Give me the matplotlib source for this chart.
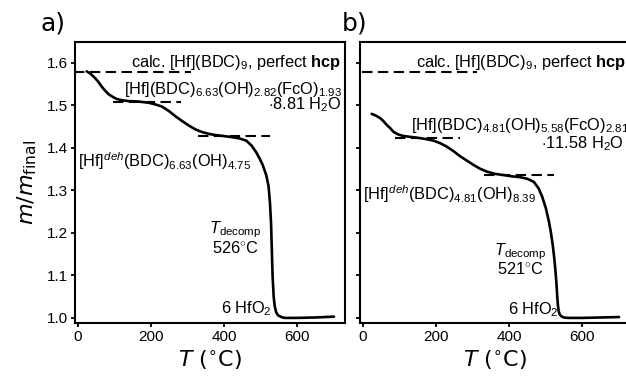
import matplotlib
matplotlib.use("Agg")
import matplotlib.pyplot as plt

plt.rcParams['font.family'] = ['Liberation Sans', 'DejaVu Sans']
plt.rcParams['mathtext.fontset'] = 'custom'
plt.rcParams['mathtext.rm'] = 'Liberation Sans'
plt.rcParams['mathtext.it'] = 'Liberation Sans:italic'
plt.rcParams['mathtext.bf'] = 'Liberation Sans:bold'

# ---- data ----
T_a = [24, 35, 47, 56, 65, 75, 84, 95, 106, 120, 139, 165, 194, 212, 230, 248, 267,
       285, 304, 322, 340, 362, 386, 405, 423, 442, 460, 475, 487, 496, 505, 515,
       521, 525, 528, 530, 532, 535, 538, 542, 547, 556, 565, 600, 650, 700]
m_a = [1.580, 1.574, 1.564, 1.555, 1.544, 1.534, 1.526, 1.520, 1.515, 1.512, 1.510,
       1.509, 1.506, 1.502, 1.497, 1.487, 1.474, 1.463, 1.452, 1.443, 1.437, 1.432,
       1.429, 1.427, 1.425, 1.422, 1.417, 1.405, 1.390, 1.376, 1.360, 1.335, 1.310,
       1.270, 1.220, 1.160, 1.100, 1.050, 1.027, 1.013, 1.006, 1.002, 1.000, 1.000,
       1.001, 1.003]

T_b = [24, 35, 47, 56, 65, 75, 83, 95, 110, 128, 147, 170, 193, 211, 229, 248, 266,
       284, 302, 320, 339, 360, 384, 407, 430, 450, 467, 480, 490, 500, 508, 514,
       519, 523, 526, 529, 531, 533, 535, 538, 542, 549, 560, 600, 650, 700]
m_b = [1.480, 1.476, 1.470, 1.463, 1.454, 1.446, 1.438, 1.432, 1.428, 1.426, 1.424,
       1.421, 1.417, 1.411, 1.403, 1.392, 1.380, 1.370, 1.360, 1.351, 1.344, 1.339,
       1.336, 1.333, 1.331, 1.327, 1.320, 1.305, 1.285, 1.258, 1.228, 1.200, 1.170,
       1.140, 1.113, 1.080, 1.052, 1.030, 1.016, 1.008, 1.004, 1.001, 1.000, 1.000,
       1.001, 1.002]

# dashed reference levels: (y, x_start, x_end)
levels_a = [(1.579, -10, 310), (1.507, 97, 281), (1.429, 327, 524)]
levels_b = [(1.579, -3, 312), (1.424, 88, 266), (1.335, 330, 521)]

xticks = [0, 200, 400, 600]
yticks = [1.0, 1.1, 1.2, 1.3, 1.4, 1.5, 1.6]

fig = plt.figure(figsize=(6.26, 3.77), dpi=100)
ax_a = fig.add_axes([75/626, 54/377, 270/626, 281/377])
ax_b = fig.add_axes([360/626, 54/377, 270/626, 281/377])

FS = 11.8
for ax, T, m, lev in [(ax_a, T_a, m_a, levels_a), (ax_b, T_b, m_b, levels_b)]:
    ax.plot(T, m, color='black', lw=1.9, solid_capstyle='round')
    for y, x0, x1 in lev:
        ax.plot([x0, x1], [y, y], color='black', lw=1.5, ls=(0, (5, 2.6)))
    ax.set_xlim(-8, 730)
    ax.set_ylim(0.988, 1.649)
    ax.set_xticks(xticks)
    ax.set_yticks(yticks)
    for s in ax.spines.values():
        s.set_linewidth(1.5)
    ax.tick_params(direction='out', length=3, width=1.3, labelsize=11, pad=2)
    ax.set_xlabel(r'$T$ ($^{\circ}$C)', fontsize=16, family='DejaVu Sans',
                  math_fontfamily='dejavusans', labelpad=3)

ax_b.tick_params(labelleft=False)
ax_a.set_yticklabels([f'{v:.1f}' for v in yticks])
ax_a.set_ylabel(r'$m/m_{\mathrm{final}}$', fontsize=16, family='DejaVu Sans',
                math_fontfamily='dejavusans', labelpad=6)

# annotations panel a
ax_a.text(721, 1.600, r'calc. [Hf](BDC)$_9$, perfect $\mathbf{hcp}$', ha='right',
          va='center', fontsize=FS)
ax_a.text(723, 1.526, r'[Hf](BDC)$_{6.63}$(OH)$_{2.82}$(FcO)$_{1.93}$', ha='right',
          va='baseline', fontsize=FS)
ax_a.text(721, 1.491, r'$\cdot$8.81 H$_2$O', ha='right', va='baseline', fontsize=FS)
ax_a.text(0, 1.355, r'[Hf]$^{deh}$(BDC)$_{6.63}$(OH)$_{4.75}$', ha='left',
          va='baseline', fontsize=FS)
ax_a.text(430, 1.198, r'$T_{\mathrm{decomp}}$', ha='center', va='baseline', fontsize=FS)
ax_a.text(430, 1.153, r'526$^{\circ}$C', ha='center', va='baseline', fontsize=FS)
ax_a.text(529, 1.011, r'6 HfO$_2$', ha='right', va='baseline', fontsize=FS)

# annotations panel b
ax_b.text(720, 1.600, r'calc. [Hf](BDC)$_9$, perfect $\mathbf{hcp}$', ha='right',
          va='center', fontsize=FS, clip_on=False)
ax_b.text(131, 1.442, r'[Hf](BDC)$_{4.81}$(OH)$_{5.58}$(FcO)$_{2.81}$', ha='left',
          va='baseline', fontsize=FS)
ax_b.text(712, 1.400, r'$\cdot$11.58 H$_2$O', ha='right', va='baseline', fontsize=FS)
ax_b.text(0, 1.278, r'[Hf]$^{deh}$(BDC)$_{4.81}$(OH)$_{8.39}$', ha='left',
          va='baseline', fontsize=FS)
ax_b.text(430, 1.148, r'$T_{\mathrm{decomp}}$', ha='center', va='baseline', fontsize=FS)
ax_b.text(430, 1.104, r'521$^{\circ}$C', ha='center', va='baseline', fontsize=FS)
ax_b.text(534, 1.009, r'6 HfO$_2$', ha='right', va='baseline', fontsize=FS)

# panel labels
fig.text(41/626, 1 - 24/377, 'a)', fontsize=18, family='DejaVu Sans', va='center', ha='left')
fig.text(342/626, 1 - 24/377, 'b)', fontsize=18, family='DejaVu Sans', va='center', ha='left')

fig.savefig('out.png', dpi=100)
